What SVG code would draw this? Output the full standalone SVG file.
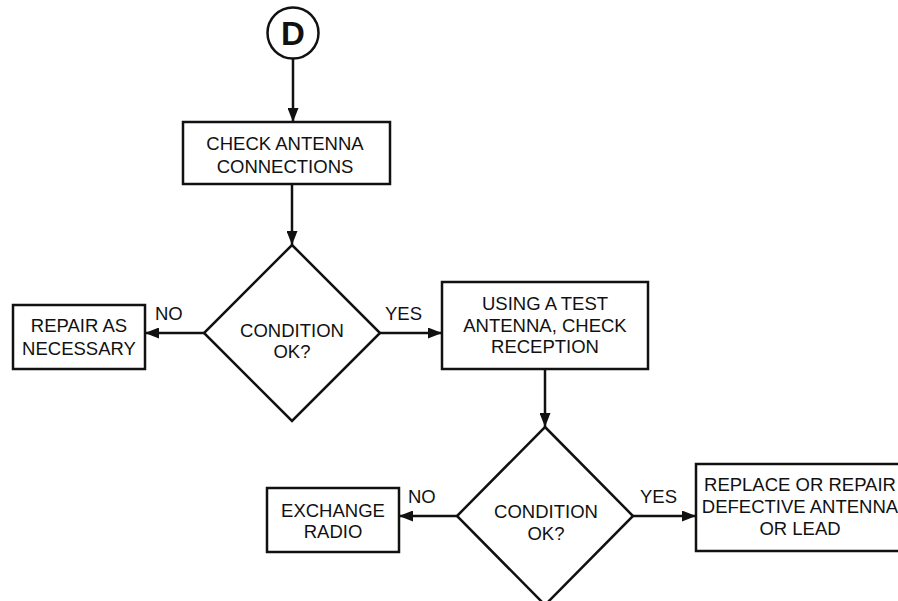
<svg xmlns="http://www.w3.org/2000/svg" width="898" height="601" viewBox="0 0 898 601">
<defs>
<marker id="ah" markerWidth="14" markerHeight="11" refX="14" refY="5.5" orient="auto" markerUnits="userSpaceOnUse">
<path d="M0,0 L14,5.5 L0,11 Z" fill="#111"/>
</marker>
<style>
.box{fill:#fff;stroke:#111;stroke-width:2.5}
.t{font-family:"Liberation Sans",Arial,sans-serif;font-size:18.5px;fill:#111;text-anchor:middle}
.lbl{font-family:"Liberation Sans",Arial,sans-serif;font-size:18.5px;fill:#111}
.c{fill:none;stroke:#111;stroke-width:2.5}
</style>
</defs>
<rect width="898" height="601" fill="#fff"/>
<g id="connectors">
<line class="c" x1="293" y1="59" x2="293" y2="122" marker-end="url(#ah)"/>
<line class="c" x1="292" y1="184" x2="292" y2="245" marker-end="url(#ah)"/>
<line class="c" x1="204" y1="333" x2="145" y2="333" marker-end="url(#ah)"/>
<line class="c" x1="380" y1="333" x2="442" y2="333" marker-end="url(#ah)"/>
<line class="c" x1="545" y1="369" x2="545" y2="427" marker-end="url(#ah)"/>
<line class="c" x1="457" y1="516" x2="399" y2="516" marker-end="url(#ah)"/>
<line class="c" x1="633" y1="516" x2="696" y2="516" marker-end="url(#ah)"/>
<text class="lbl" x="155" y="320">NO</text>
<text class="lbl" x="385" y="320">YES</text>
<text class="lbl" x="408" y="503">NO</text>
<text class="lbl" x="640" y="503">YES</text>
</g>
<g id="start">
<circle cx="293" cy="33" r="25.5" fill="#fff" stroke="#111" stroke-width="2.5"/>
<text x="293" y="45" font-family="Liberation Sans,Arial,sans-serif" font-size="33" font-weight="bold" text-anchor="middle" fill="#111">D</text>
</g>
<g id="check">
<rect class="box" x="183" y="122" width="207" height="62"/>
<text class="t" x="285" y="150">CHECK ANTENNA</text>
<text class="t" x="285" y="173">CONNECTIONS</text>
</g>
<g id="cond1">
<polygon class="box" points="292,245 380,333 292,421 204,333"/>
<text class="t" x="292" y="337">CONDITION</text>
<text class="t" x="292" y="358">OK?</text>
</g>
<g id="repair">
<rect class="box" x="13" y="305" width="132" height="64"/>
<text class="t" x="79" y="332">REPAIR AS</text>
<text class="t" x="79" y="355">NECESSARY</text>
</g>
<g id="test">
<rect class="box" x="442" y="282" width="206" height="87"/>
<text class="t" x="545" y="310">USING A TEST</text>
<text class="t" x="545" y="332">ANTENNA, CHECK</text>
<text class="t" x="545" y="353">RECEPTION</text>
</g>
<g id="cond2">
<polygon class="box" points="545,427 633,516 545,605 457,516"/>
<text class="t" x="546" y="518">CONDITION</text>
<text class="t" x="546" y="540">OK?</text>
</g>
<g id="exchange">
<rect class="box" x="267" y="488" width="132" height="64"/>
<text class="t" x="333" y="517">EXCHANGE</text>
<text class="t" x="333" y="538">RADIO</text>
</g>
<g id="replace">
<rect class="box" x="696" y="464" width="210" height="87"/>
<text class="t" x="800" y="491">REPLACE OR REPAIR</text>
<text class="t" x="800" y="513">DEFECTIVE ANTENNA</text>
<text class="t" x="800" y="535">OR LEAD</text>
</g>
</svg>
